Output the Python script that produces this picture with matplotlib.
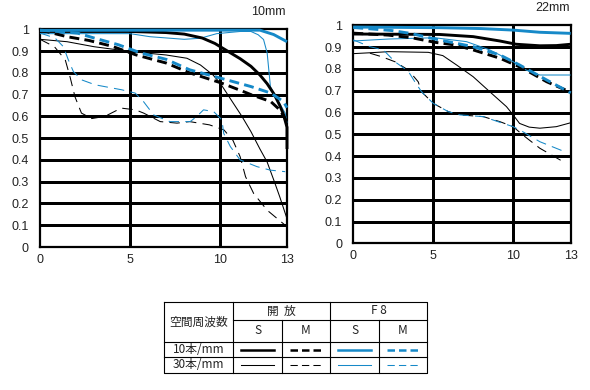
import matplotlib
matplotlib.use("Agg")
import matplotlib.pyplot as plt
from matplotlib.lines import Line2D

plt.rcParams['font.family'] = ['Liberation Sans', 'Noto Sans CJK JP', 'DejaVu Sans']

BLACK = '#000000'
BLUE = '#1689c8'

# ---------------- 10mm data ----------------
w_s10_x = [0, 5, 7, 8, 9, 9.7, 10.4, 11.1, 11.7, 12.2, 12.6, 13.0, 13.3, 13.5, 13.7, 13.7]
w_s10_y = [0.99, 0.99, 0.985, 0.978, 0.96, 0.935, 0.90, 0.865, 0.83, 0.79, 0.75, 0.70, 0.65, 0.61, 0.55, 0.45]
w_m10_x = [0, 1.5, 2.7, 4.0, 5.3, 7.0, 8.3, 10.0, 11.1, 11.7, 12.8, 13.3, 13.7]
w_m10_y = [0.997, 0.966, 0.949, 0.922, 0.883, 0.845, 0.80, 0.755, 0.72, 0.70, 0.668, 0.63, 0.575]
w_s30_x = [0, 1.5, 3.0, 5.0, 7.0, 8.15, 8.9, 9.6, 10.0, 10.6, 11.2, 11.7, 12.2, 12.6, 13.0, 13.3, 13.7]
w_s30_y = [0.954, 0.943, 0.92, 0.898, 0.882, 0.867, 0.836, 0.79, 0.752, 0.676, 0.60, 0.53, 0.45, 0.39, 0.30, 0.23, 0.13]
w_m30_x = [0, 0.8, 1.4, 1.67, 1.94, 2.3, 2.87, 3.6, 4.5, 5.3, 5.75, 6.67, 7.6, 8.3, 9.4, 10.2, 10.7, 11.1, 11.4, 11.85, 12.6, 13.6]
w_m30_y = [0.954, 0.92, 0.86, 0.78, 0.69, 0.615, 0.59, 0.60, 0.638, 0.63, 0.615, 0.576, 0.569, 0.576, 0.561, 0.538, 0.49, 0.415, 0.323, 0.246, 0.169, 0.10]
w_f8s10_x = [0, 6, 10, 12.2, 12.96, 13.7]
w_f8s10_y = [0.995, 0.996, 0.996, 0.996, 0.976, 0.943]
w_f8m10_x = [0, 1.0, 2.1, 3.0, 4.35, 5.6, 7.0, 8.3, 10.0, 11.7, 12.8, 13.5, 13.7]
w_f8m10_y = [0.996, 0.99, 0.982, 0.96, 0.929, 0.891, 0.862, 0.814, 0.776, 0.737, 0.707, 0.668, 0.64]
w_f8s30_x = [0, 5, 6.1, 8.0, 8.9, 9.8, 11.1, 11.7, 12.1, 12.4, 12.6, 12.78, 13.06, 13.6, 13.7]
w_f8s30_y = [0.98, 0.98, 0.966, 0.954, 0.959, 0.98, 0.99, 0.99, 0.975, 0.953, 0.891, 0.737, 0.691, 0.615, 0.57]
w_f8m30_x = [0, 0.83, 1.3, 1.57, 1.85, 2.3, 3.06, 4.54, 5.28, 5.74, 6.3, 7.2, 8.33, 8.7, 9.07, 9.63, 10.09, 10.19, 10.56, 11.1, 12.04, 12.78, 13.6]
w_f8m30_y = [0.983, 0.96, 0.92, 0.86, 0.806, 0.768, 0.745, 0.722, 0.707, 0.668, 0.607, 0.576, 0.576, 0.60, 0.63, 0.622, 0.584, 0.522, 0.461, 0.40, 0.369, 0.353, 0.346]

# ---------------- 22mm data ----------------
t_s10_x = [0, 5.4, 7.5, 9.17, 10.2, 11.67, 12.7, 13.6]
t_s10_y = [0.96, 0.958, 0.948, 0.928, 0.913, 0.906, 0.907, 0.913]
t_m10_x = [0, 2.19, 3.65, 5.1, 6.36, 7.5, 9.17, 10.6, 12.1, 13.6]
t_m10_y = [0.964, 0.955, 0.943, 0.922, 0.91, 0.887, 0.849, 0.803, 0.741, 0.693]
t_s30_x = [0, 1.04, 2.19, 4.69, 5.6, 6.46, 7.5, 8.54, 9.58, 10.0, 10.4, 11.0, 11.67, 12.7, 13.6]
t_s30_y = [0.87, 0.874, 0.879, 0.876, 0.861, 0.818, 0.764, 0.695, 0.627, 0.589, 0.55, 0.533, 0.528, 0.535, 0.553]
t_m30_x = [1.04, 1.77, 2.6, 3.44, 4.06, 4.27, 5.0, 5.94, 6.67, 8.13, 9.17, 10.0, 10.6, 11.67, 13.3]
t_m30_y = [0.872, 0.856, 0.833, 0.795, 0.741, 0.695, 0.642, 0.604, 0.589, 0.581, 0.558, 0.535, 0.497, 0.436, 0.367]
t_f8s10_x = [0, 5.42, 8.0, 10.0, 11.67, 13.6]
t_f8s10_y = [0.992, 0.989, 0.985, 0.978, 0.968, 0.963]
t_f8m10_x = [0, 2.4, 3.65, 5.1, 7.5, 9.17, 10.4, 12.1, 13.6]
t_f8m10_y = [0.99, 0.976, 0.962, 0.937, 0.902, 0.864, 0.818, 0.749, 0.69]
t_f8s30_x = [0, 2.19, 5.1, 5.42, 7.08, 8.54, 10.0, 10.8, 11.67, 13.6]
t_f8s30_y = [0.928, 0.937, 0.943, 0.94, 0.925, 0.887, 0.833, 0.795, 0.772, 0.772]
t_f8m30_x = [0, 1.04, 1.88, 2.6, 3.44, 3.85, 4.27, 5.0, 5.94, 6.67, 8.13, 9.17, 10.0, 10.6, 11.67, 13.23]
t_f8m30_y = [0.933, 0.902, 0.887, 0.833, 0.789, 0.741, 0.695, 0.642, 0.604, 0.589, 0.581, 0.555, 0.535, 0.512, 0.466, 0.42]

x_ticks_lbl = ['0', '5', '10', '13']
y_ticks = [0, 0.1, 0.2, 0.3, 0.4, 0.5, 0.6, 0.7, 0.8, 0.9, 1]
y_ticks_lbl = ['0', '0.1', '0.2', '0.3', '0.4', '0.5', '0.6', '0.7', '0.8', '0.9', '1']

TH, TN = 2.1, 0.75
DASH_TH = (3.4, 1.8)
DASH_TN = (10, 6)

fig = plt.figure(figsize=(5.9, 3.9), dpi=100)
W, H = 590.0, 390.0


def make_ax(x0, x1, ytop, ybot, xmax, title, tx, ty):
    ax = fig.add_axes([x0 / W, 1 - ybot / H, (x1 - x0) / W, (ybot - ytop) / H])
    ax.set_xlim(0, xmax)
    ax.set_ylim(0, 1)
    for yv in y_ticks[1:-1]:
        ax.axhline(yv, color='black', lw=0.75, zorder=1, antialiased=False)
    for xv in [5, 10]:
        ax.axvline(xv, color='black', lw=0.75, zorder=1, antialiased=False)
    for s in ax.spines.values():
        s.set_linewidth(1.6)
        s.set_color('black')
    ax.set_xticks([0, 5, 10, xmax])
    ax.set_xticklabels(x_ticks_lbl)
    ax.set_yticks(y_ticks)
    ax.set_yticklabels(y_ticks_lbl)
    ax.tick_params(length=0, labelsize=9, colors='#222222')
    ax.tick_params(axis='y', pad=8)
    ax.tick_params(axis='x', pad=5)
    fig.text(tx / W, 1 - ty / H, title, fontsize=9, ha='right', va='center', color='#222222')
    return ax


def draw(ax, x, y, color, lw, dashes=None):
    ln, = ax.plot(x, y, color=color, lw=lw, zorder=3, solid_capstyle='butt', clip_on=False)
    if dashes:
        ln.set_dashes(dashes)
        ln.set_dash_capstyle('butt')


axL = make_ax(40, 287, 29.3, 247, 13.7, '10mm', 286, 12)
draw(axL, w_s30_x, w_s30_y, BLACK, TN)
draw(axL, w_m30_x, w_m30_y, BLACK, TN, DASH_TN)
draw(axL, w_f8s30_x, w_f8s30_y, BLUE, TN)
draw(axL, w_f8m30_x, w_f8m30_y, BLUE, TN, DASH_TN)
draw(axL, w_m10_x, w_m10_y, BLACK, TH, DASH_TH)
draw(axL, w_s10_x, w_s10_y, BLACK, TH)
draw(axL, w_f8m10_x, w_f8m10_y, BLUE, TH, DASH_TH)
draw(axL, w_f8s10_x, w_f8s10_y, BLUE, TH)

axR = make_ax(353.3, 570.7, 25.3, 243.3, 13.6, '22mm', 570, 8)
draw(axR, t_s30_x, t_s30_y, BLACK, TN)
draw(axR, t_m30_x, t_m30_y, BLACK, TN, DASH_TN)
draw(axR, t_f8s30_x, t_f8s30_y, BLUE, TN)
draw(axR, t_f8m30_x, t_f8m30_y, BLUE, TN, DASH_TN)
draw(axR, t_m10_x, t_m10_y, BLACK, TH, DASH_TH)
draw(axR, t_s10_x, t_s10_y, BLACK, TH)
draw(axR, t_f8m10_x, t_f8m10_y, BLUE, TH, DASH_TH)
draw(axR, t_f8s10_x, t_f8s10_y, BLUE, TH)

# ---------------- legend table ----------------
axT = fig.add_axes([0, 0, 1, 1])
axT.set_xlim(0, W)
axT.set_ylim(H, 0)
axT.axis('off')

tl, tr, tt, tb = 164, 427, 302, 373
c1, c2, c3, c4 = 233, 282, 330, 379
r1, r2, r3 = 320, 342, 357
lk = dict(color='black', lw=0.8)
axT.add_line(Line2D([tl, tr, tr, tl, tl], [tt, tt, tb, tb, tt], **lk))
axT.add_line(Line2D([c1, c1], [tt, tb], **lk))
axT.add_line(Line2D([c3, c3], [tt, tb], **lk))
axT.add_line(Line2D([c2, c2], [r1, tb], **lk))
axT.add_line(Line2D([c4, c4], [r1, tb], **lk))
axT.add_line(Line2D([c1, tr], [r1, r1], **lk))
axT.add_line(Line2D([tl, tr], [r2, r2], **lk))
axT.add_line(Line2D([tl, tr], [r3, r3], **lk))

tf = dict(fontsize=8.5, ha='center', va='center', color='#222222',
          family=['Noto Sans CJK JP', 'DejaVu Sans'])
axT.text((tl + c1) / 2, (tt + r2) / 2, '空間周波数', **tf)
axT.text((c1 + c3) / 2, (tt + r1) / 2, '開  放', **tf)
axT.text((c3 + tr) / 2, (tt + r1) / 2, 'F 8', **tf)
for a, b, s in [(c1, c2, 'S'), (c2, c3, 'M'), (c3, c4, 'S'), (c4, tr, 'M')]:
    axT.text((a + b) / 2, (r1 + r2) / 2, s, **tf)
axT.text((tl + c1) / 2, (r2 + r3) / 2, '10本/mm', **tf)
axT.text((tl + c1) / 2, (r3 + tb) / 2, '30本/mm', **tf)

styles = [(c1, c2, BLACK, None), (c2, c3, BLACK, 'd'), (c3, c4, BLUE, None), (c4, tr, BLUE, 'd')]
for a, b, col, d in styles:
    for yrow, lw in [((r2 + r3) / 2, TH), ((r3 + tb) / 2, TN)]:
        ln = Line2D([a + 8, b - 8], [yrow, yrow], color=col, lw=lw if lw == TN else 1.8)
        if d:
            ln.set_dashes((3.0, 1.6) if lw == TH else (7, 4))
        axT.add_line(ln)

fig.savefig('out.png', dpi=100)
